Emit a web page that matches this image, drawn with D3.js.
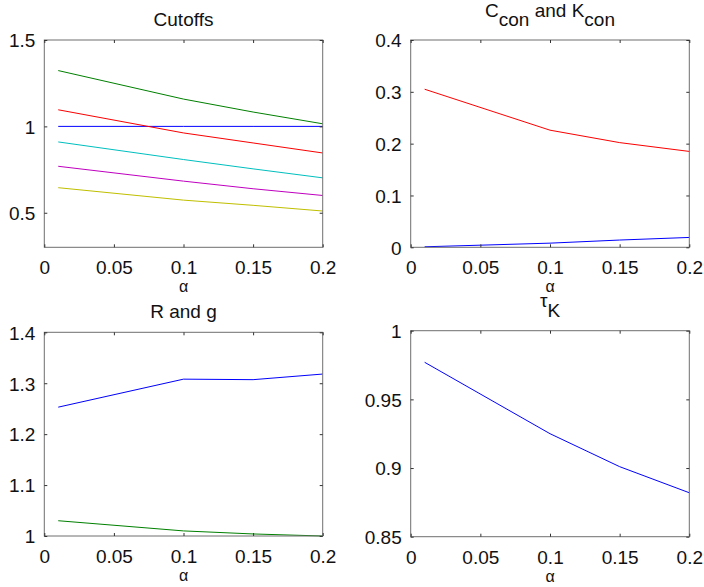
<!DOCTYPE html>
<html>
<head>
<meta charset="utf-8">
<script src="https://cdn.jsdelivr.net/npm/d3@7"></script>
<style>
  html, body { margin: 0; padding: 0; background: #fff; }
  svg { display: block; }
  text { font-family: "Liberation Sans", Arial, sans-serif; fill: #111; }
</style>
</head>
<body>
<svg id="chart" width="704" height="587"></svg>
<script>
// ---- Data ----
const alpha = [0.01, 0.1, 0.15, 0.2];
const xTicks = [0, 0.05, 0.1, 0.15, 0.2];
const xTickLabels = ["0", "0.05", "0.1", "0.15", "0.2"];

// Cutoffs (panel 1)
const cutBlue    = [1.0, 1.0, 1.0, 1.0];
const cutGreen   = [1.323, 1.158, 1.083, 1.015];
const cutRed     = [1.096, 0.962, 0.904, 0.846];
const cutCyan    = [0.910, 0.808, 0.754, 0.702];
const cutMagenta = [0.769, 0.683, 0.639, 0.600];
const cutYellow  = [0.645, 0.573, 0.543, 0.510];
const cutYTicks = [0.5, 1, 1.5];
const cutYTickLabels = ["0.5", "1", "1.5"];

// C_con and K_con (panel 2)
const cCon = [0.305, 0.226, 0.202, 0.185];
const kCon = [0.001, 0.008, 0.014, 0.019];
const conYTicks = [0, 0.1, 0.2, 0.3, 0.4];
const conYTickLabels = ["0", "0.1", "0.2", "0.3", "0.4"];

// R and g (panel 3)
const rVals = [1.253, 1.308, 1.307, 1.318];
const gVals = [1.030, 1.010, 1.004, 1.000];
const rgYTicks = [1, 1.1, 1.2, 1.3, 1.4];
const rgYTickLabels = ["1", "1.1", "1.2", "1.3", "1.4"];

// tau_K (panel 4)
const tauK = [0.977, 0.925, 0.901, 0.882];
const tauYTicks = [0.85, 0.9, 0.95, 1];
const tauYTickLabels = ["0.85", "0.9", "0.95", "1"];

// ---- Layout ----
const FS = 19;
const svg = d3.select("#chart");

const panels = [
  { box: [44.3, 40, 322.7, 247.3], ydom: [0.3, 1.5], yt: cutYTicks, ytl: cutYTickLabels,
    series: [[cutBlue, "#0000ff"], [cutGreen, "#008000"], [cutRed, "#ff0000"],
             [cutCyan, "#00bfbf"], [cutMagenta, "#bf00bf"], [cutYellow, "#bfbf00"]],
    title: [{t: "Cutoffs"}] },
  { box: [410.7, 40, 689.3, 247.3], ydom: [0, 0.4], yt: conYTicks, ytl: conYTickLabels,
    series: [[kCon, "#0000ff"], [cCon, "#ff0000"]],
    title: [{t: "C"}, {t: "con", sub: true}, {t: " and K"}, {t: "con", sub: true}] },
  { box: [44.3, 332.3, 322.7, 536], ydom: [1, 1.4], yt: rgYTicks, ytl: rgYTickLabels,
    series: [[rVals, "#0000ff"], [gVals, "#008000"]],
    title: [{t: "R and g"}] },
  { box: [410.7, 330.7, 689.3, 536.7], ydom: [0.85, 1], yt: tauYTicks, ytl: tauYTickLabels,
    series: [[tauK, "#0000ff"]],
    title: [{t: "\u03c4"}, {t: "K", sub: true}] }
];

panels.forEach(p => {
  const [x0, y0, x1, y1] = p.box;
  const x = d3.scaleLinear().domain([0, 0.2]).range([x0, x1]);
  const y = d3.scaleLinear().domain(p.ydom).range([y1, y0]);
  const g = svg.append("g");

  // series
  const line = d3.line().x((d, i) => x(alpha[i])).y(d => y(d));
  p.series.forEach(([vals, col]) => {
    g.append("path").datum(vals).attr("d", line)
      .attr("fill", "none").attr("stroke", col).attr("stroke-width", 1);
  });

  // box
  g.append("rect").attr("x", x0).attr("y", y0).attr("width", x1 - x0).attr("height", y1 - y0)
    .attr("fill", "none").attr("stroke", "#6e6e6e").attr("stroke-width", 1);

  // axes (ticks inward, both sides)
  const tl = 3;
  const xb = d3.axisBottom(x).tickValues(xTicks).tickSizeInner(-tl).tickSizeOuter(0)
    .tickFormat((d, i) => xTickLabels[i]).tickPadding(10);
  const gx = g.append("g").attr("transform", `translate(0,${y1})`).call(xb);
  const xt = d3.axisTop(x).tickValues(xTicks).tickSizeInner(-tl).tickSizeOuter(0).tickFormat("");
  const gxt = g.append("g").attr("transform", `translate(0,${y0})`).call(xt);
  const yl = d3.axisLeft(y).tickValues(p.yt).tickSizeInner(-tl).tickSizeOuter(0)
    .tickFormat((d, i) => p.ytl[i]).tickPadding(9);
  const gy = g.append("g").attr("transform", `translate(${x0},0)`).call(yl);
  const yr = d3.axisRight(y).tickValues(p.yt).tickSizeInner(-tl).tickSizeOuter(0).tickFormat("");
  const gyr = g.append("g").attr("transform", `translate(${x1},0)`).call(yr);
  [gx, gxt, gy, gyr].forEach(a => {
    a.select(".domain").remove();
    a.selectAll(".tick line").attr("stroke", "#333");
    a.selectAll(".tick text").style("font-size", FS + "px")
      .style("font-family", '"Liberation Sans", Arial, sans-serif').attr("fill", "#111");
  });
  gx.selectAll(".tick text").attr("dy", null).attr("y", 27).attr("dominant-baseline", "auto");
  gy.selectAll(".tick text").attr("dy", "0.36em");

  // x label
  g.append("text").attr("x", (x0 + x1) / 2).attr("y", y1 + 45)
    .attr("text-anchor", "middle").style("font-size", "16px").text("\u03b1");

  // title
  const hasSub = p.title.some(s => s.sub);
  const baseY = hasSub ? y0 - 14 - 9.5 : y0 - 14;
  const t = g.append("text").attr("x", (x0 + x1) / 2).attr("y", baseY)
    .attr("text-anchor", "middle").style("font-size", FS + "px");
  p.title.forEach((s, i) => {
    const prev = i > 0 ? p.title[i - 1] : null;
    let dy = 0;
    if (s.sub && !(prev && prev.sub)) dy = 9.5;
    if (!s.sub && prev && prev.sub) dy = -9.5;
    t.append("tspan").attr("dy", dy).text(s.t);
  });
});
</script>
</body>
</html>
